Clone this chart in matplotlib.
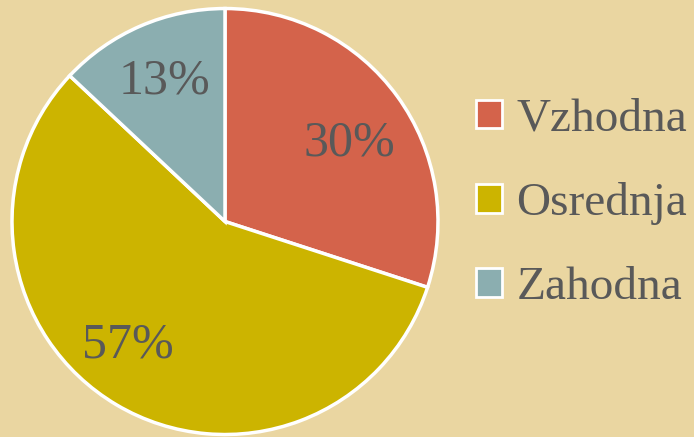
import matplotlib.pyplot as plt
from matplotlib.patches import Patch

labels = ["Vzhodna", "Osrednja", "Zahodna"]
shares = [30, 57, 13]
colors = ["#D4634B", "#CCB400", "#8BAEB0"]

bg = "#EAD6A1"
txt = "#595959"

fig = plt.figure(figsize=(6.94, 4.37), dpi=100, facecolor=bg)
ax = fig.add_axes([0.0173, 0.0057, 0.6138, 0.9748])
ax.set_facecolor(bg)

wedges, texts, autotexts = ax.pie(
    shares, colors=colors, startangle=90, counterclock=False,
    autopct="%d%%", pctdistance=0.72,
    wedgeprops=dict(edgecolor="white", linewidth=2.5),
    textprops=dict(family="Liberation Serif", fontsize=36, color=txt))
ax.set_xlim(-1, 1)
ax.set_ylim(-1, 1)
ax.set_aspect("equal")

# nudge the percentage labels a little, as in the original layout
nudge = [(0.0, -0.055), (-0.09, 0.04), (0.0, 0.0)]
for t, (dx, dy) in zip(autotexts, nudge):
    x, y = t.get_position()
    t.set_position((x + dx, y + dy))

handles = [Patch(facecolor=c, edgecolor="white", linewidth=2) for c in colors]
leg = fig.legend(handles, labels, loc="center left", bbox_to_anchor=(0.686, 0.534),
                 frameon=False, borderpad=0, borderaxespad=0,
                 handlelength=0.55, handleheight=0.55, handletextpad=0.3,
                 labelspacing=0.88,
                 prop=dict(family="Liberation Serif", size=34))
for t in leg.get_texts():
    t.set_color(txt)

fig.savefig("out.png", dpi=100, facecolor=bg)
